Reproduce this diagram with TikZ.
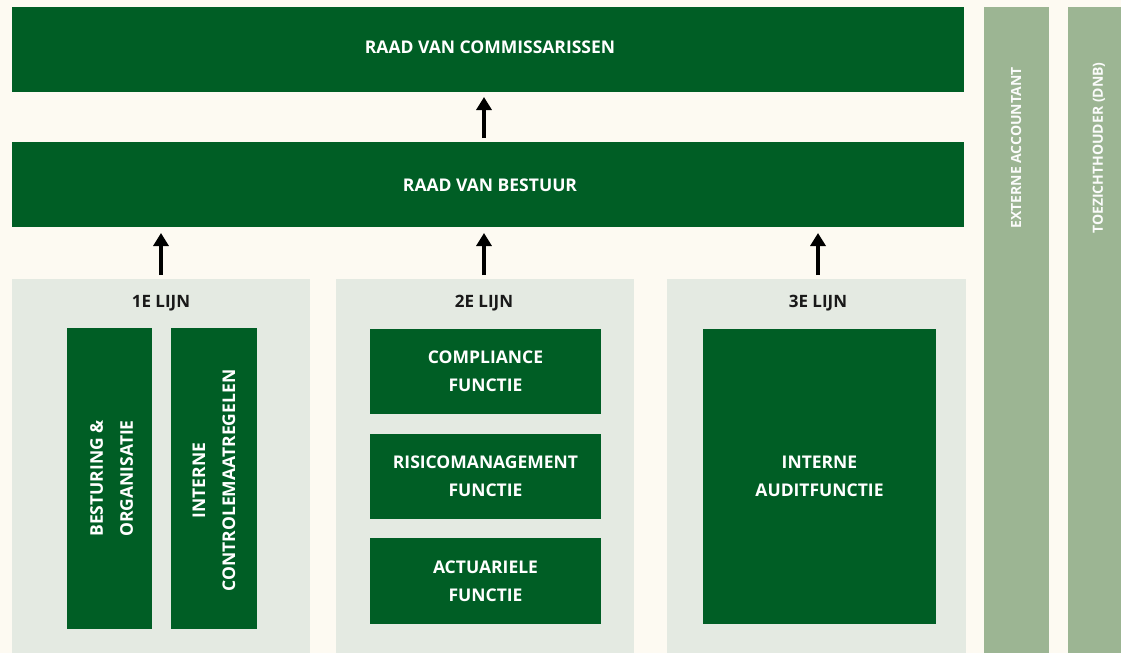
\documentclass[tikz,border=0pt]{standalone}
\usepackage{fontspec}
\setmainfont{Open Sans}
\usetikzlibrary{arrows.meta}
\definecolor{bgc}{HTML}{FDFAF2}
\definecolor{dgreen}{HTML}{005E25}
\definecolor{panelc}{HTML}{E4EAE2}
\definecolor{sage}{HTML}{9CB593}
\tikzset{
  box/.style={fill=dgreen, draw=none, inner sep=0pt, outer sep=0pt, anchor=north west, text=white, align=center,
    font=\bfseries\fontsize{17.5}{28}\selectfont},
  panel/.style={fill=panelc, draw=none, inner sep=0pt, outer sep=0pt, anchor=north west},
  sagecol/.style={fill=sage, draw=none, inner sep=0pt, outer sep=0pt, anchor=north west},
  ptitle/.style={text=black!90, font=\bfseries\fontsize{17}{19}\selectfont, inner sep=0pt},
  toptext/.style={text=white, font=\bfseries\fontsize{17.5}{20}\selectfont, inner sep=0pt},
  vtext/.style={text=white, font=\bfseries\fontsize{17.5}{30}\selectfont, rotate=90, align=center, inner sep=0pt},
  stext/.style={text=white!95!sage, font=\bfseries\fontsize{14}{15}\selectfont, rotate=90, inner sep=0pt},
  arr/.style={-{Triangle[width=15pt,length=13pt]}, line width=4.5pt, black}
}
\begin{document}
\begin{tikzpicture}[x=1pt,y=1pt]
\fill[bgc] (0,0) rectangle (1121,-653);
\useasboundingbox (0,0) rectangle (1121,-653);
% top boxes
\node[box, minimum width=952pt, minimum height=85pt] (rvc) at (12,-7) {};
\node[toptext] (rvct) at (490,-47) {RAAD VAN COMMISSARISSEN};
\node[box, minimum width=952pt, minimum height=85pt] (rvb) at (12,-142) {};
\node[toptext] (rvbt) at (490,-185) {RAAD VAN BESTUUR};
% sage columns
\node[sagecol, minimum width=65pt, minimum height=646pt] (ext) at (984,-7) {};
\node[stext] (extt) at (1016,-148) {EXTERNE ACCOUNTANT};
\node[sagecol, minimum width=53pt, minimum height=646pt] (dnb) at (1068,-7) {};
\node[stext] (dnbt) at (1099,-148) {TOEZICHTHOUDER (DNB)};
% panels
\node[panel, minimum width=298pt, minimum height=374pt] (p1) at (12,-279) {};
\node[panel, minimum width=298pt, minimum height=374pt] (p2) at (336,-279) {};
\node[panel, minimum width=299pt, minimum height=374pt] (p3) at (667,-279) {};
\node[ptitle] (t1) at (161,-303) {1E LIJN};
\node[ptitle] (t2) at (484,-303) {2E LIJN};
\node[ptitle] (t3) at (818,-303) {3E LIJN};
% panel 1
\node[box, minimum width=85pt, minimum height=301pt] (bo) at (67,-328) {};
\node[vtext] (bot) at ([xshift=2pt]bo.center) {BESTURING \&\\ORGANISATIE};
\node[box, minimum width=86pt, minimum height=301pt] (ic) at (171,-328) {};
\node[vtext] (ict) at ([yshift=-2pt]ic.center) {INTERNE\\CONTROLEMAATREGELEN};
% panel 2
\node[box, minimum width=231pt, minimum height=85pt] (cf) at (370,-329) {COMPLIANCE\\FUNCTIE};
\node[box, minimum width=231pt, minimum height=85pt] (rf) at (370,-434) {RISICOMANAGEMENT\\FUNCTIE};
\node[box, minimum width=231pt, minimum height=86pt] (af) at (370,-538) {ACTUARIELE\\FUNCTIE};
% panel 3
\node[box, minimum width=233pt, minimum height=295pt] (ia) at (703,-329) {INTERNE\\AUDITFUNCTIE};
% arrows
\draw[arr] ([yshift=4pt]p1.north -| t1) -- ([yshift=-6pt]rvb.south -| t1);
\draw[arr] ([yshift=4pt]p2.north -| t2) -- ([yshift=-6pt]rvb.south -| t2);
\draw[arr] ([yshift=4pt]p3.north -| t3) -- ([yshift=-6pt]rvb.south -| t3);
\draw[arr] ([yshift=4pt]rvb.north -| t2) -- ([yshift=-5pt]rvc.south -| t2);
\end{tikzpicture}
\end{document}
